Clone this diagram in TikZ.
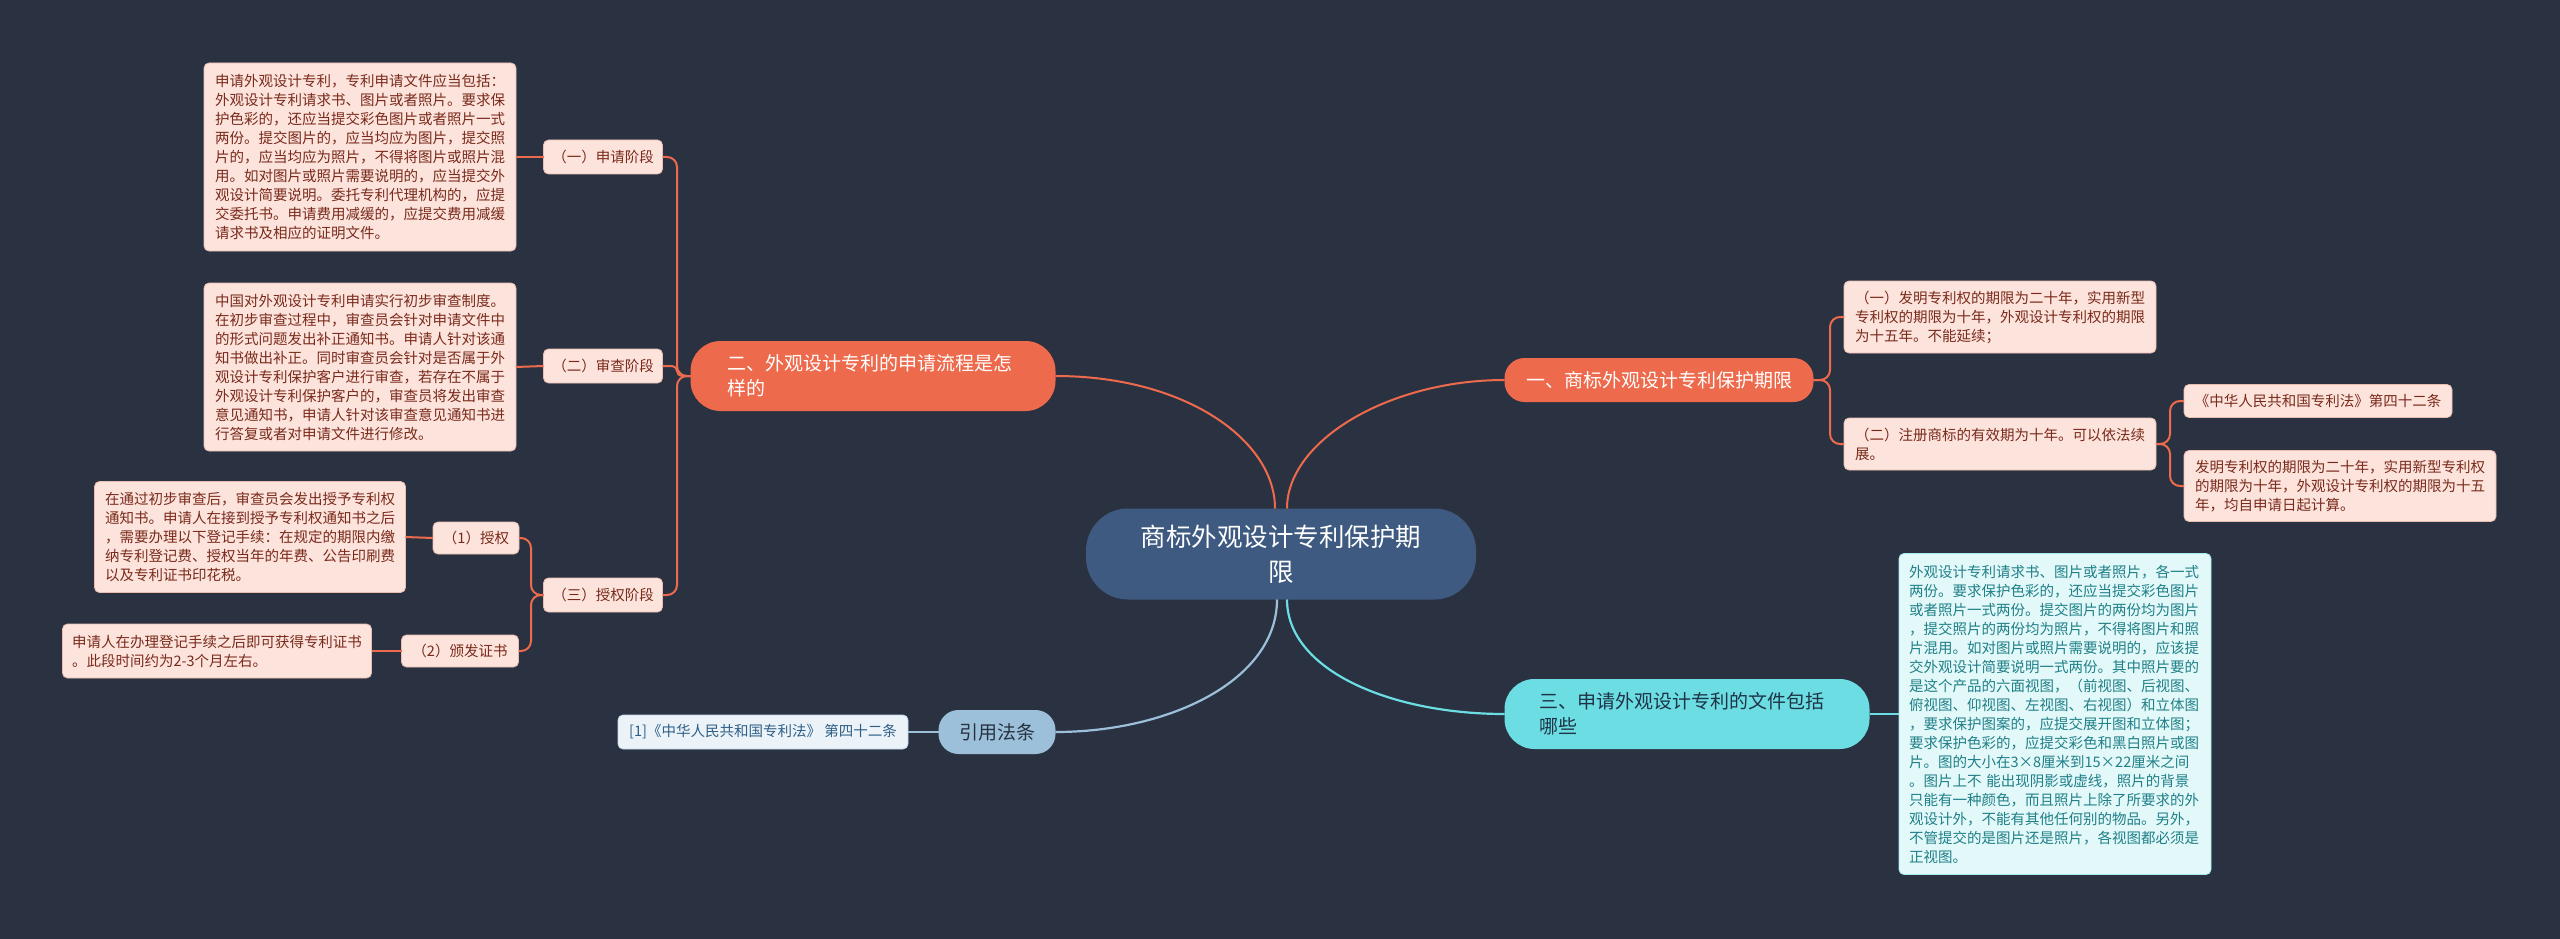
\documentclass[tikz,border=0pt]{standalone}
\usepackage{fontspec}
\setmainfont{Noto Sans CJK SC}
\definecolor{bgcol}{HTML}{2A3242}
\definecolor{orangecol}{HTML}{EE6A4C}
\definecolor{pinkfill}{HTML}{FCE4DD}
\definecolor{pinkedge}{HTML}{E9BDB0}
\definecolor{pinktext}{HTML}{7A2A1B}
\definecolor{centercol}{HTML}{3E5A80}
\definecolor{lawcol}{HTML}{9DC0DA}
\definecolor{lawtext}{HTML}{26323F}
\definecolor{cyancol}{HTML}{6BDDE3}
\definecolor{cyantext}{HTML}{1F3346}
\definecolor{cyanfill}{HTML}{E3F8F9}
\definecolor{cyanboxtext}{HTML}{1F8088}
\definecolor{citefill}{HTML}{EBF3F8}
\definecolor{citetext}{HTML}{2F5F87}
\begin{document}
\begin{tikzpicture}[x=1pt,y=-1pt,
  every node/.style={inner sep=0pt, outer sep=0pt},
  pinkbox/.style={draw=pinkedge, line width=0.8pt, fill=pinkfill, text=pinktext, rounded corners=5pt, font=\fontsize{14.5}{19}\selectfont, align=left},
  cyanbox/.style={draw=cyancol!60!white, line width=0.8pt, fill=cyanfill, text=cyanboxtext, rounded corners=5pt, font=\fontsize{14.5}{19}\selectfont, align=left},
  citebox/.style={draw=lawcol!60!white, line width=0.8pt, fill=citefill, text=citetext, rounded corners=5pt, font=\fontsize{14.5}{19}\selectfont, align=center},
  orangebranch/.style={fill=orangecol, text=white, font=\fontsize{19}{25}\selectfont, align=left},
  oline/.style={draw=orangecol, line width=2pt},
  bline/.style={draw=lawcol, line width=2.2pt},
  cline/.style={draw=cyancol, line width=2.2pt},
]
\fill[bgcol] (0,0) rectangle (2560,939);
\useasboundingbox (0,0) rectangle (2560,939);

% central
\node[fill=centercol, text=white, rounded corners=42pt, minimum width=390pt, minimum height=91pt, text width=300pt, align=center, font=\fontsize{25.5}{35}\selectfont] (C) at (1281,554) {商标外观设计专利保护期\\限};

% branches
\node[orangebranch, rounded corners=30pt, minimum width=365pt, minimum height=70pt, text width=292pt] (B2) at (873,376) {二、外观设计专利的申请流程是怎\\样的};
\node[orangebranch, rounded corners=20pt, minimum width=309pt, minimum height=44pt, align=center] (B1) at (1659,380) {一、商标外观设计专利保护期限};
\node[fill=cyancol, text=cyantext, font=\fontsize{19}{25}\selectfont, align=left, rounded corners=30pt, minimum width=365pt, minimum height=70pt, text width=296pt] (B3) at (1687,714) {三、申请外观设计专利的文件包括\\哪些};
\node[fill=lawcol, text=lawtext, font=\fontsize{19}{25}\selectfont, rounded corners=20pt, minimum width=117pt, minimum height=44pt] (LAW) at (997,732) {引用法条};
\node[citebox, minimum width=290pt, minimum height=34pt] (CITE) at (763,732) {[1]《中华人民共和国专利法》 第四十二条};

% left subtree
\node[pinkbox, minimum width=119pt, minimum height=34pt, align=center] (S1) at (603,157) {（一）申请阶段};
\node[pinkbox, minimum width=119pt, minimum height=34pt, align=center] (S2) at (603,366) {（二）审查阶段};
\node[pinkbox, minimum width=119pt, minimum height=34pt, align=center] (S3) at (603,595) {（三）授权阶段};
\node[pinkbox, minimum width=86pt, minimum height=32pt, align=center] (G1) at (476,538) {（1）授权};
\node[pinkbox, minimum width=117pt, minimum height=32pt, align=center] (G2) at (460,651) {（2）颁发证书};

\node[pinkbox, minimum width=312pt, minimum height=188pt, text width=290pt] (L1) at (360,157) {申请外观设计专利，专利申请文件应当包括：\\外观设计专利请求书、图片或者照片。要求保\\护色彩的，还应当提交彩色图片或者照片一式\\两份。提交图片的，应当均应为图片，提交照\\片的，应当均应为照片，不得将图片或照片混\\用。如对图片或照片需要说明的，应当提交外\\观设计简要说明。委托专利代理机构的，应提\\交委托书。申请费用减缓的，应提交费用减缓\\请求书及相应的证明文件。};
\node[pinkbox, minimum width=312pt, minimum height=168pt, text width=290pt] (L2) at (360,367) {中国对外观设计专利申请实行初步审查制度。\\在初步审查过程中，审查员会针对申请文件中\\的形式问题发出补正通知书。申请人针对该通\\知书做出补正。同时审查员会针对是否属于外\\观设计专利保护客户进行审查，若存在不属于\\外观设计专利保护客户的，审查员将发出审查\\意见通知书，申请人针对该审查意见通知书进\\行答复或者对申请文件进行修改。};
\node[pinkbox, minimum width=311pt, minimum height=111pt, text width=290pt] (L3) at (250,537) {在通过初步审查后，审查员会发出授予专利权\\通知书。申请人在接到授予专利权通知书之后\\，需要办理以下登记手续：在规定的期限内缴\\纳专利登记费、授权当年的年费、公告印刷费\\以及专利证书印花税。};
\node[pinkbox, minimum width=309pt, minimum height=54pt, text width=290pt] (L4) at (217,651) {申请人在办理登记手续之后即可获得专利证书\\。此段时间约为2-3个月左右。};

% right subtree
\node[pinkbox, minimum width=312pt, minimum height=72pt, text width=290pt] (R1) at (2000,317) {（一）发明专利权的期限为二十年，实用新型\\专利权的期限为十年，外观设计专利权的期限\\为十五年。不能延续；};
\node[pinkbox, minimum width=312pt, minimum height=52pt, text width=290pt] (R2) at (2000,444) {（二）注册商标的有效期为十年。可以依法续\\展。};
\node[pinkbox, minimum width=268pt, minimum height=33pt, align=center] (R3) at (2318,401) {《中华人民共和国专利法》第四十二条};
\node[pinkbox, minimum width=312pt, minimum height=71pt, text width=290pt] (R4) at (2340,486) {发明专利权的期限为二十年，实用新型专利权\\的期限为十年，外观设计专利权的期限为十五\\年，均自申请日起计算。};
\node[cyanbox, minimum width=312pt, minimum height=321pt, text width=292pt] (R5) at (2055,714) {外观设计专利请求书、图片或者照片，各一式\\两份。要求保护色彩的，还应当提交彩色图片\\或者照片一式两份。提交图片的两份均为图片\\，提交照片的两份均为照片，不得将图片和照\\片混用。如对图片或照片需要说明的，应该提\\交外观设计简要说明一式两份。其中照片要的\\是这个产品的六面视图，（前视图、后视图、\\俯视图、仰视图、左视图、右视图）和立体图\\，要求保护图案的，应提交展开图和立体图；\\要求保护色彩的，应提交彩色和黑白照片或图\\片。图的大小在3×8厘米到15×22厘米之间\\。图片上不 能出现阴影或虚线，照片的背景\\只能有一种颜色，而且照片上除了所要求的外\\观设计外，不能有其他任何别的物品。另外，\\不管提交的是图片还是照片，各视图都必须是\\正视图。};

% main connectors
\draw[oline] ([xshift=-6pt]C.north) .. controls ([xshift=-6pt]C.north |- 0,440) and (1185,376) .. (B2.east);
\draw[oline] ([xshift=6pt]C.north) .. controls ([xshift=6pt]C.north |- 0,440) and (1390,380) .. (B1.west);
\draw[bline] ([xshift=-4pt]C.south) .. controls ([xshift=-4pt]C.south |- 0,680) and (1170,732) .. (LAW.east);
\draw[cline] ([xshift=6pt]C.south) .. controls ([xshift=6pt]C.south |- 0,670) and (1390,714) .. (B3.west);

% left brackets
\draw[oline, rounded corners=10pt] (B2.west) -- (677,376) |- (S1.east);
\draw[oline, rounded corners=5pt] (B2.west) -- (677,376) |- (S2.east);
\draw[oline, rounded corners=10pt] (B2.west) -- (677,376) |- (S3.east);
\draw[oline] (S1.west) -- (L1.east);
\draw[oline] (S2.west) -- (L2.east);
\draw[oline, rounded corners=10pt] (S3.west) -- (531,595) |- (G1.east);
\draw[oline, rounded corners=10pt] (S3.west) -- (531,595) |- (G2.east);
\draw[oline] (G1.west) -- (L3.east);
\draw[oline] (G2.west) -- (L4.east);

% right brackets
\draw[oline, rounded corners=10pt] (B1.east) -- (1830,380) |- (R1.west);
\draw[oline, rounded corners=10pt] (B1.east) -- (1830,380) |- (R2.west);
\draw[oline, rounded corners=10pt] (R2.east) -- (2170,444) |- (R3.west);
\draw[oline, rounded corners=10pt] (R2.east) -- (2170,444) |- (R4.west);
\draw[cline] (B3.east) -- (R5.west);
\draw[bline] (LAW.west) -- (CITE.east);
\end{tikzpicture}
\end{document}
